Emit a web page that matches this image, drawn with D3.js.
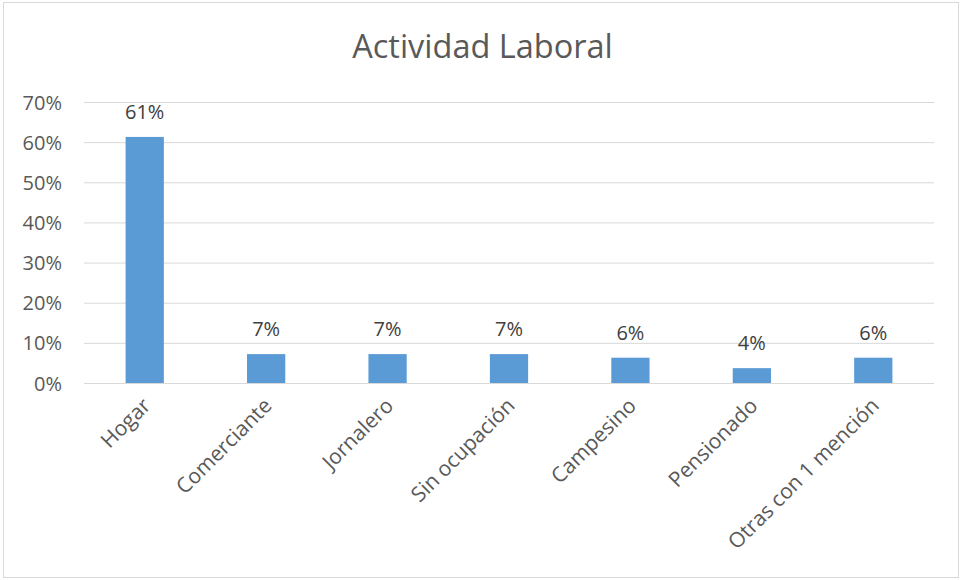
<!DOCTYPE html>
<html>
<head>
<meta charset="utf-8">
<script src="https://cdn.jsdelivr.net/npm/d3@7"></script>
<style>
  body { margin: 0; background: #fff; }
  text { font-family: "Open Sans", sans-serif; }
</style>
</head>
<body>
<div id="chart"></div>
<script>
const categories = ["Hogar", "Comerciante", "Jornalero", "Sin ocupación", "Campesino", "Pensionado", "Otras con 1 mención"];
const values = [0.613, 0.072, 0.072, 0.072, 0.063, 0.037, 0.063];
const yTicks = [0, 0.1, 0.2, 0.3, 0.4, 0.5, 0.6, 0.7];

const W = 963, H = 580;
const margin = {top: 102, right: 29, bottom: 197, left: 84};
const width = W - margin.left - margin.right,
      height = H - margin.top - margin.bottom;

const svg = d3.select("#chart").append("svg")
    .attr("width", W)
    .attr("height", H);

// outer frame
svg.append("rect")
    .attr("x", 3.5).attr("y", 2.5)
    .attr("width", W - 8).attr("height", H - 5)
    .attr("fill", "#fff")
    .attr("stroke", "#d9d9d9");

svg.append("text")
    .attr("x", W / 2 + 1)
    .attr("y", 58)
    .attr("text-anchor", "middle")
    .attr("font-size", 32.5)
    .attr("fill", "#595959")
    .text("Actividad Laboral");

const g = svg.append("g").attr("transform", `translate(${margin.left},${margin.top})`);

const x = d3.scaleBand().domain(categories).range([0, width]).paddingInner(0.685).paddingOuter(0.3425);
const y = d3.scaleLinear().domain([0, 0.7]).range([height, 0]);

// grid + y labels
g.append("g")
    .call(d3.axisLeft(y).tickValues(yTicks).tickSize(-width).tickFormat(d3.format(".0%")).tickPadding(22))
    .call(a => a.select(".domain").remove())
    .call(a => a.selectAll("line").attr("stroke", "#d9d9d9"))
    .call(a => a.selectAll("text").attr("fill", "#595959").attr("font-size", 20).attr("dy", "0.35em"));

g.selectAll("rect.bar")
    .data(values)
    .join("rect")
    .attr("class", "bar")
    .attr("x", (d, i) => x(categories[i]))
    .attr("y", d => y(d))
    .attr("width", x.bandwidth())
    .attr("height", d => height - y(d))
    .attr("fill", "#5b9bd5");

g.selectAll("text.val")
    .data(values)
    .join("text")
    .attr("class", "val")
    .attr("x", (d, i) => x(categories[i]) + x.bandwidth() / 2)
    .attr("y", d => y(d) - 18)
    .attr("text-anchor", "middle")
    .attr("font-size", 20)
    .attr("fill", "#404040")
    .text(d => d3.format(".0%")(d));

// x axis labels
g.append("g")
    .attr("transform", `translate(0,${height})`)
    .call(d3.axisBottom(x).tickSize(0).tickPadding(0))
    .call(a => a.select(".domain").remove())
    .call(a => a.selectAll("text")
        .attr("fill", "#595959")
        .attr("font-size", 21)
        .attr("text-anchor", "end")
        .attr("dy", null)
        .attr("transform", "translate(7,24) rotate(-45)"));
</script>
</body>
</html>
